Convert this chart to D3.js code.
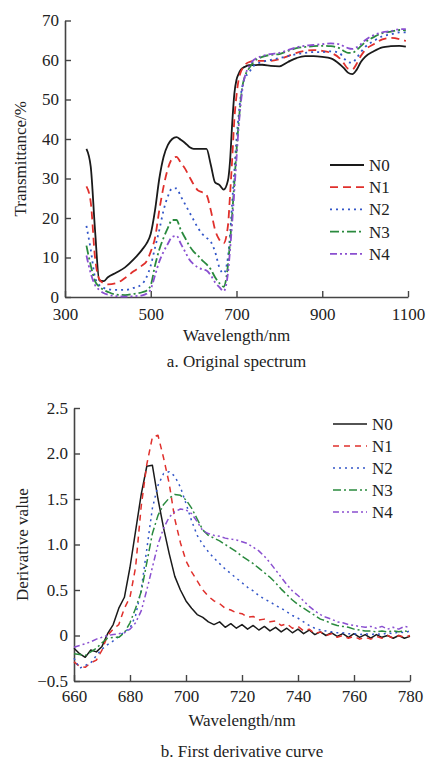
<!DOCTYPE html>
<html>
<head>
<meta charset="utf-8">
<script src="https://cdn.jsdelivr.net/npm/d3@7"></script>
<style>
  body { margin: 0; background: #fff; }
  text { font-family: "Liberation Serif", "Times New Roman", serif; fill: #222; }
</style>
</head>
<body>
<svg id="chart" width="430" height="760"></svg>
<script>
// ---- data: (a) original spectrum, transmittance %
var wlA = [350,360,370,380,390,400,420,440,460,480,490,500,510,520,530,540,550,560,570,580,590,600,610,620,630,640,650,660,670,680,685,690,695,700,705,710,715,720,730,740,760,780,800,820,840,860,880,900,920,940,950,960,970,980,990,1000,1020,1040,1060,1080,1095];
var n0A = [37.5,33,17,4.2,4,5,6.2,7.5,9.5,12,13.5,16,22,30,35.5,38.5,40,40.5,39.8,39,38,37.5,37.5,37.5,37.5,33.5,29,28.4,27.2,29.5,34.5,44,51.5,55,56.5,57.5,58,58.3,58.7,58.7,58.8,58.5,58.4,59.5,60.5,61,61,60.8,60.4,59,58,56.8,56.4,57.5,59.5,60.8,62.2,63.2,63.5,63.6,63.4];
var n1A = [28,24,10,4.5,3.5,3.2,3.5,4.8,6.5,8,9,11.5,15,22,28,32.5,35,35.5,34,32.5,30.5,28.5,27,26.5,25.8,22,17,14.5,13.6,18,26,35,45,51,55,57,58,58.8,59.5,59.8,59.8,59.8,60.2,61,61.8,62.3,62.5,62.3,61.8,60.5,59.2,57.8,57.6,59,61,62.5,64,65.2,65.6,65.3,64.8];
var n2A = [18,12,5,3,2.3,2,1.8,1.8,2.3,3.3,5,8,12.5,17,22,25.5,27.5,27.5,25.5,23.5,21.5,19.5,17.5,16,15,14,11.5,7.5,6,10,16,24,32,40,46,51,54,55.5,57,58.5,59.5,60,60.5,61,61.5,61.8,62,62,62.2,61.8,60.5,59.5,59.3,60.5,62,63.3,64.8,66,66.5,67,67];
var n3A = [13,8,4,2.6,1.8,1.3,0.6,0.5,0.8,1.2,1.6,3,8,12,15,17.5,19.5,19.5,17,15,13,11.5,10.5,9.3,8.3,7,5,3.5,2.6,8,14,21,29,37,44,50,54,56,58,59.5,60.8,61.3,61.5,62.3,63,63.3,63.5,63.6,63.5,63,62.3,61.8,61.8,62.5,63.5,64.5,65.8,66.8,67.2,67.6,67.5];
var n4A = [10.5,6,3,1.8,1,0.6,0.2,0.1,0.2,0.4,0.8,2,5.5,9,11.5,13.5,15.2,15.5,13.5,11.5,9.5,8.3,7.5,7,6.7,5.5,3.7,2.5,1.5,6,12,19,27,35,43,49,53.5,56,58.5,60,61,61.5,61.8,62.5,63.2,63.6,63.8,64,64.2,64,63.5,63,62.8,63.2,64,65,66.3,67,67.3,67.8,67.8];
var ticksXA = [300,500,700,900,1100];
var ticksYA = [0,10,20,30,40,50,60,70];

// ---- data: (b) first derivative
var wlB = [660,662,664,666,668,670,672,674,676,678,680,682,684,686,688,690,692,694,696,698,700,702,704,706,708,710,712,714,716,718,720,722,724,726,728,730,732,734,736,738,740,742,744,746,748,750,752,754,756,758,760,762,764,766,768,770,772,774,776,778,780];
var n0B = [-0.14,-0.2,-0.24,-0.16,-0.18,-0.12,0.02,0.12,0.3,0.42,0.75,1.15,1.55,1.86,1.87,1.5,1.18,0.9,0.65,0.5,0.38,0.3,0.23,0.2,0.15,0.12,0.15,0.09,0.13,0.08,0.12,0.07,0.11,0.06,0.1,0.05,0.09,0.04,0.08,0.03,0.07,0.02,0.06,0.01,0.04,0,0.03,-0.01,0.02,-0.02,0.02,-0.02,0.01,-0.03,0.01,-0.02,0,-0.03,0,-0.03,-0.01];
var n1B = [-0.29,-0.34,-0.35,-0.3,-0.27,-0.16,0,0.07,0.12,0.3,0.42,0.75,1.42,1.88,2.18,2.2,1.95,1.67,1.28,1.02,0.82,0.7,0.6,0.5,0.43,0.38,0.35,0.3,0.28,0.25,0.24,0.2,0.21,0.17,0.18,0.15,0.16,0.11,0.13,0.08,0.1,0.05,0.07,0.02,0.04,0,0.02,-0.02,0,-0.03,-0.01,-0.04,-0.02,-0.04,-0.01,-0.03,0,-0.03,0,-0.02,0];
var n2B = [-0.25,-0.36,-0.33,-0.3,-0.22,-0.15,-0.1,-0.06,-0.01,0.04,0.08,0.22,0.5,0.95,1.4,1.65,1.78,1.8,1.75,1.63,1.45,1.26,1.1,1,0.92,0.85,0.79,0.73,0.68,0.63,0.58,0.53,0.49,0.44,0.4,0.37,0.33,0.3,0.26,0.22,0.19,0.15,0.11,0.08,0.06,0.05,0.04,0.03,0.03,0.02,0.02,0.01,0.02,0.01,0.02,0.01,0.03,0.02,0.04,0.03,0.05];
var n3B = [-0.2,-0.21,-0.22,-0.18,-0.14,-0.08,-0.03,-0.02,-0.02,0.03,0.14,0.3,0.48,0.8,1.12,1.32,1.44,1.51,1.55,1.54,1.49,1.4,1.28,1.16,1.1,1.07,1.04,1,0.96,0.92,0.87,0.83,0.79,0.74,0.69,0.64,0.58,0.51,0.45,0.39,0.34,0.3,0.26,0.22,0.18,0.16,0.13,0.11,0.1,0.09,0.07,0.06,0.05,0.05,0.04,0.05,0.04,0.05,0.04,0.05,0.04];
var n4B = [-0.13,-0.11,-0.09,-0.07,-0.04,-0.02,0,0.01,0.02,0.03,0.07,0.14,0.27,0.5,0.75,1,1.18,1.3,1.36,1.39,1.38,1.34,1.25,1.15,1.12,1.1,1.09,1.07,1.06,1.05,1.03,1.01,0.97,0.93,0.87,0.8,0.72,0.64,0.56,0.49,0.44,0.38,0.32,0.27,0.23,0.2,0.18,0.15,0.14,0.12,0.11,0.1,0.09,0.1,0.08,0.1,0.07,0.09,0.07,0.1,0.09];
var ticksXB = [660,680,700,720,740,760,780];
var ticksYB = [-0.5,0,0.5,1.0,1.5,2.0,2.5];

var names = ["N0","N1","N2","N3","N4"];
var colors = ["#1a1a1a","#e0302c","#3356c8","#2a8a3e","#8a4fd0"];
var dashesA = ["none","8,5","2,4","9,3,2,3","7,3,2,3,2,3"];
var dashesB = ["none","6,5","2,4","8,3,2,3","6,3,2,3,2,3"];

var svg = d3.select("#chart");

function drawPanel(opt) {
  var x = d3.scaleLinear().domain(opt.xDomain).range(opt.xRange);
  var y = d3.scaleLinear().domain(opt.yDomain).range(opt.yRange);
  var g = svg.append("g");

  var xAxis = g.append("g")
    .attr("transform", "translate(0," + opt.yRange[0] + ")")
    .call(d3.axisBottom(x).tickValues(opt.xTicks).tickFormat(d3.format("d"))
      .tickSizeInner(-6).tickSizeOuter(0).tickPadding(opt.xPad));
  var yAxis = g.append("g")
    .attr("transform", "translate(" + opt.xRange[0] + ",0)")
    .call(d3.axisLeft(y).tickValues(opt.yTicks).tickSizeInner(-6).tickSizeOuter(0).tickPadding(6).tickFormat(opt.yFormat));
  [xAxis, yAxis].forEach(function (a) {
    a.select(".domain").attr("stroke", "#444").attr("stroke-width", 1.6);
    a.selectAll(".tick line").attr("stroke", "#444").attr("stroke-width", 1.4);
    a.selectAll(".tick text").attr("font-size", 17).attr("fill", "#222");
  });

  var line = d3.line()
    .x(function (d) { return x(d[0]); })
    .y(function (d) { return y(d[1]); })
    .curve(opt.curve);

  opt.series.forEach(function (vals, i) {
    var pts = opt.wl.map(function (w, k) { return [w, vals[k]]; });
    g.append("path").datum(pts)
      .attr("d", line)
      .attr("fill", "none")
      .attr("stroke", colors[i])
      .attr("stroke-width", opt.lw)
      .attr("stroke-dasharray", opt.dashes[i])
      .attr("stroke-linejoin", "round");
  });

  // legend
  names.forEach(function (n, i) {
    var ly = opt.legY + i * opt.legStep;
    g.append("line")
      .attr("x1", opt.legX).attr("x2", opt.legX + 34)
      .attr("y1", ly).attr("y2", ly)
      .attr("stroke", colors[i]).attr("stroke-width", opt.lw)
      .attr("stroke-dasharray", opt.dashes[i]);
    g.append("text").attr("x", opt.legX + 39).attr("y", ly + 6)
      .attr("font-size", 17).text(n);
  });

  // axis titles and caption
  var cx = (opt.xRange[0] + opt.xRange[1]) / 2;
  g.append("text").attr("x", cx).attr("y", opt.xTitleY)
    .attr("text-anchor", "middle").attr("font-size", 17).text("Wavelength/nm");
  g.append("text")
    .attr("transform", "translate(" + opt.yTitleX + "," + (opt.yRange[0] + opt.yRange[1]) / 2 + ") rotate(-90)")
    .attr("text-anchor", "middle").attr("font-size", 17).text(opt.yTitle);
  g.append("text").attr("x", cx).attr("y", opt.capY)
    .attr("text-anchor", "middle").attr("font-size", 17).text(opt.caption);
}

drawPanel({
  wl: wlA, series: [n0A, n1A, n2A, n3A, n4A],
  xDomain: [300, 1100], xRange: [65, 408],
  yDomain: [0, 70], yRange: [297, 20.5],
  xTicks: ticksXA, yTicks: ticksYA, xPad: 11,
  yFormat: d3.format("d"),
  curve: d3.curveMonotoneX, lw: 1.8, dashes: dashesA,
  legX: 330, legY: 165, legStep: 22.2,
  xTitleY: 341, yTitleX: 26, yTitle: "Transmittance/%",
  capY: 367, caption: "a. Original spectrum"
});

drawPanel({
  wl: wlB, series: [n0B, n1B, n2B, n3B, n4B],
  xDomain: [660, 780], xRange: [74, 410],
  yDomain: [-0.5, 2.5], yRange: [681, 408],
  xTicks: ticksXB, yTicks: ticksYB, xPad: 9,
  yFormat: function (d) { return d === 0 ? "0" : d3.format(".1f")(d); },
  curve: d3.curveLinear, lw: 1.5, dashes: dashesB,
  legX: 333, legY: 424, legStep: 22,
  xTitleY: 726, yTitleX: 28, yTitle: "Derivative value",
  capY: 757, caption: "b. First derivative curve"
});
</script>
</body>
</html>
